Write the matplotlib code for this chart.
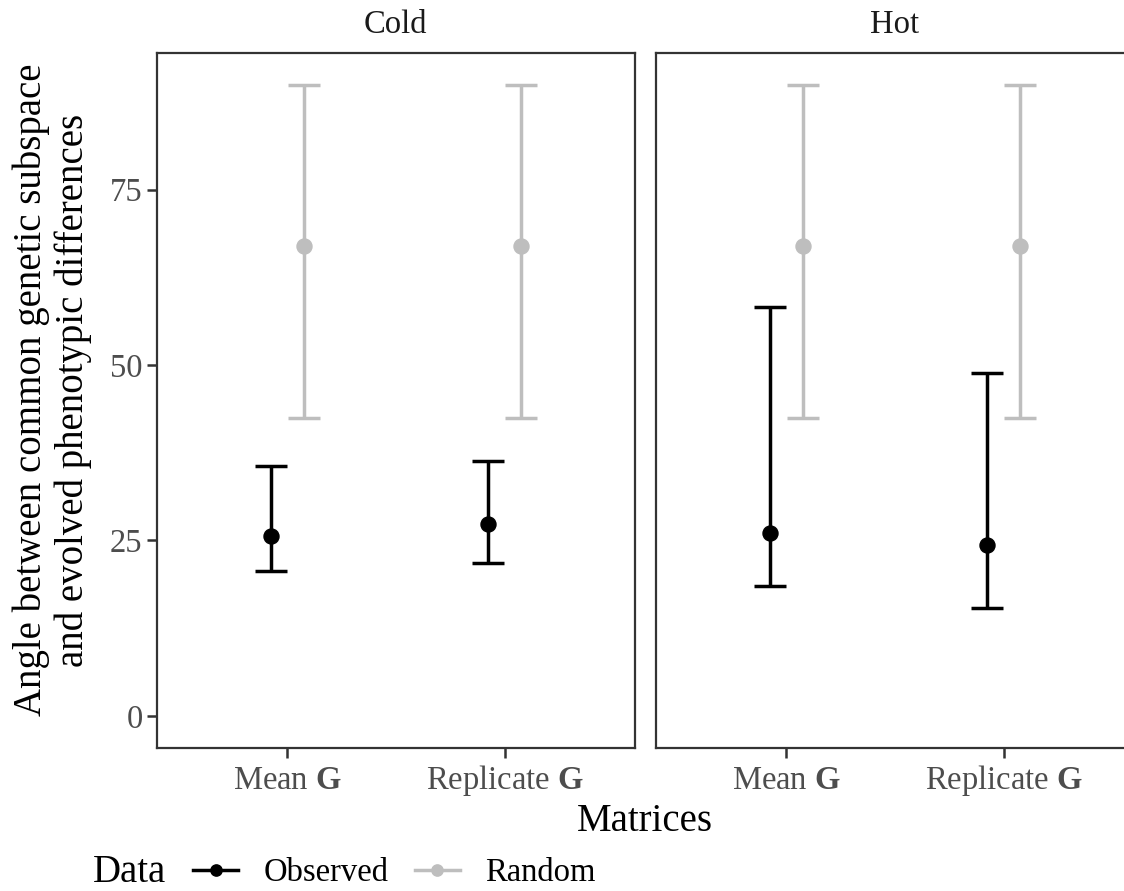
import matplotlib
matplotlib.use("Agg")
import matplotlib.pyplot as plt
from matplotlib.lines import Line2D
import numpy as np

plt.rcParams['font.family'] = ['Liberation Serif', 'DejaVu Serif']
plt.rcParams['mathtext.fontset'] = 'custom'
plt.rcParams['mathtext.rm'] = 'Liberation Serif'
plt.rcParams['mathtext.bf'] = 'Liberation Serif:bold'

# data
panels = ['Cold', 'Hot']
matrices = [r'Mean $\mathbf{G}$', r'Replicate $\mathbf{G}$']

obs_mean = {'Cold': [25.7, 27.3], 'Hot': [26.1, 24.4]}
obs_low = {'Cold': [20.6, 21.8], 'Hot': [18.5, 15.4]}
obs_high = {'Cold': [35.6, 36.3], 'Hot': [58.2, 48.8]}

rand_mean = {'Cold': [66.9, 66.9], 'Hot': [66.9, 66.9]}
rand_low = {'Cold': [42.4, 42.4], 'Hot': [42.4, 42.4]}
rand_high = {'Cold': [89.9, 89.9], 'Hot': [89.9, 89.9]}

black = '#000000'
grey = '#BEBEBE'
frame = '#333333'
ticklab = '#4D4D4D'

W, H = 1124, 891
fig = plt.figure(figsize=(W / 100, H / 100), dpi=100)

bottom = 1 - 747.5 / H
top = 1 - 52.7 / H
pw = 478.3 / W
lefts = [156.7 / W, 655.7 / W]

lw = 2.5
ms = 10.8
cap = 11.8
dodge = 0.076
small = 23.5
big = 28
x = np.arange(1, len(matrices) + 1)

axes = []
for i, p in enumerate(panels):
    ax = fig.add_axes([lefts[i], bottom, pw, top - bottom])
    axes.append(ax)

    for vals, lo, hi, col, off in [
        (rand_mean[p], rand_low[p], rand_high[p], grey, dodge),
        (obs_mean[p], obs_low[p], obs_high[p], black, -dodge),
    ]:
        v = np.array(vals)
        yerr = [v - np.array(lo), np.array(hi) - v]
        ax.errorbar(x + off, v, yerr=yerr, fmt='o', color=col, ecolor=col,
                    elinewidth=lw, capsize=cap, capthick=lw, markersize=ms,
                    zorder=3)

    ax.set_xlim(0.4, 2.6)
    ax.set_ylim(-4.5, 94.5)
    ax.set_xticks(x)
    ax.set_xticklabels(matrices)
    ax.set_yticks([0, 25, 50, 75])
    for s in ax.spines.values():
        s.set_color(frame)
        s.set_linewidth(1.6)
    ax.tick_params(axis='both', colors=frame, labelcolor=ticklab,
                   labelsize=small, length=7.2, width=1.8, pad=3)
    ax.tick_params(axis='x', pad=22.7)
    for lab in ax.get_xticklabels():
        lab.set_verticalalignment('baseline')
    if i > 0:
        ax.tick_params(axis='y', left=False, labelleft=False)

    fig.text(lefts[i] + pw / 2, 1 - 33.3 / H, p, ha='center', va='baseline',
             fontsize=small, color='#1A1A1A')

# axis titles
fig.text(645 / W, 1 - 831 / H, 'Matrices', ha='center', va='baseline',
         fontsize=big)
fig.text(52.5 / W, 1 - 390 / H,
         'Angle between common genetic subspace\nand evolved phenotypic differences',
         ha='center', va='center', rotation=90, fontsize=big,
         linespacing=1.15, multialignment='center')

# legend
fig.text(92.6 / W, 1 - 881.7 / H, 'Data', ha='left', va='baseline',
         fontsize=big)
handles = [
    Line2D([], [], color=black, lw=lw, marker='o', markersize=ms * 0.75),
    Line2D([], [], color=grey, lw=lw, marker='o', markersize=ms * 0.75),
]
fig.legend(handles, ['Observed', 'Random'], loc='center left',
           bbox_to_anchor=(193 / W, 1 - 873 / H), ncol=2, frameon=False,
           fontsize=small, handlelength=1.38, handletextpad=0.77,
           columnspacing=0.82, borderpad=0, borderaxespad=0)

fig.savefig('out.png', dpi=100, facecolor='white')
